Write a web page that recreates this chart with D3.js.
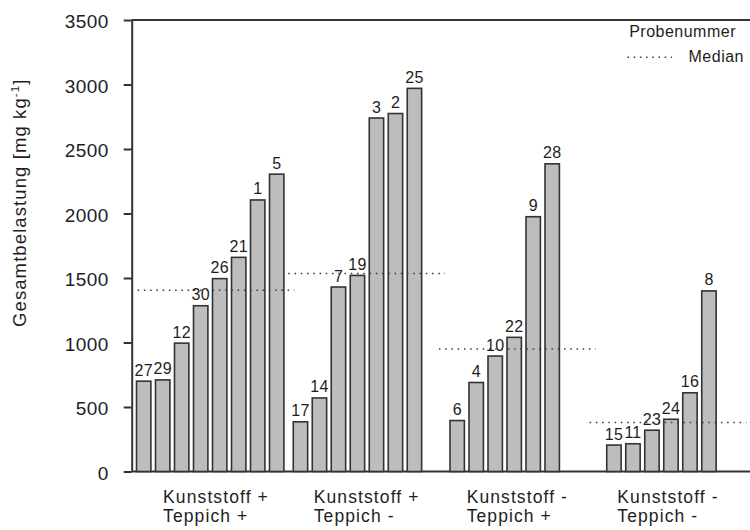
<!DOCTYPE html>
<html>
<head>
<meta charset="utf-8">
<script src="https://cdn.jsdelivr.net/npm/d3@7"></script>
<style>
  html, body { margin: 0; padding: 0; background: #fff; }
  svg { display: block; font-family: "Liberation Sans", Arial, sans-serif; }
</style>
</head>
<body>
<svg id="chart" width="750" height="530"></svg>
<script>
// Sample groups (two-line axis labels)
const groupLabels = [
  ["Kunststoff +", "Teppich +"],
  ["Kunststoff +", "Teppich -"],
  ["Kunststoff -", "Teppich +"],
  ["Kunststoff -", "Teppich -"]
];
// Sample numbers (Probenummer) per group, in plotted order
const sampleIds = [
  [27, 29, 12, 30, 26, 21, 1, 5],
  [17, 14, 7, 19, 3, 2, 25],
  [6, 4, 10, 22, 9, 28],
  [15, 11, 23, 24, 16, 8]
];
// Total load per sample [mg kg-1]
const loads = [
  [700, 710, 995, 1285, 1495, 1660, 2105, 2305],
  [385, 570, 1430, 1520, 2740, 2775, 2970],
  [395, 690, 895, 1040, 1975, 2385],
  [205, 215, 320, 405, 610, 1400]
];
// Group medians
const medians = [1405, 1535, 950, 380];
// Y axis ticks
const yTicks = [0, 500, 1000, 1500, 2000, 2500, 3000, 3500];

const svg = d3.select("#chart");
const W = 750;
const axisX = 131.7, plotTop = 20, plotBottom = 471.5;
const ink = "#333";
const textInk = "#1e1e1e";

const y = d3.scaleLinear().domain([0, 3500]).range([plotBottom, plotTop]);

// Each group reserves eight bar slots plus a small gap
const slots = 8;
const step = 19;
const groupStep = (slots + 0.25) * step;
const groupIdx = d3.range(groupLabels.length);
const xg = d3.scaleBand().domain(groupIdx)
  .range([135.7, 135.7 + groupIdx.length * groupStep]).padding(0);
const xi = d3.scaleBand().domain(d3.range(slots))
  .range([0, slots * step - 3]).paddingInner(3 / step).paddingOuter(0);
// Centre of each group's label block and median line
const xc = d3.scalePoint().domain(groupIdx).range([216, 668]);

// Frame: top and bottom rules
svg.append("line").attr("x1", axisX).attr("x2", W).attr("y1", plotTop).attr("y2", plotTop)
  .attr("stroke", ink).attr("stroke-width", 2);
svg.append("line").attr("x1", axisX).attr("x2", W).attr("y1", plotBottom).attr("y2", plotBottom)
  .attr("stroke", ink).attr("stroke-width", 2);

// Y axis
const yAxis = svg.append("g").attr("transform", `translate(${axisX},0)`)
  .call(d3.axisLeft(y).tickValues(yTicks).tickFormat(d3.format("d"))
    .tickSize(8).tickSizeOuter(0).tickPadding(15));
yAxis.select(".domain").attr("stroke", ink).attr("stroke-width", 2);
yAxis.selectAll(".tick line").attr("stroke", ink).attr("stroke-width", 2);
yAxis.selectAll(".tick text")
  .attr("font-family", "Liberation Sans, Arial, sans-serif")
  .attr("font-size", 19).attr("letter-spacing", "0.4px")
  .attr("fill", textInk).attr("dy", "0.42em");

// Y title
const yTitle = svg.append("text")
  .attr("transform", "translate(26,327) rotate(-90)")
  .attr("font-size", 18.5).attr("letter-spacing", "1.1px").attr("fill", textInk)
  .attr("text-anchor", "start");
yTitle.append("tspan").text("Gesamtbelastung [mg kg");
yTitle.append("tspan").attr("font-size", 11.5).attr("dy", -7).text("-1");
yTitle.append("tspan").attr("dy", 7).text("]");

// Bars and sample number labels
const barData = [];
groupIdx.forEach(g => {
  loads[g].forEach((v, i) => barData.push({ g, i, v, id: sampleIds[g][i] }));
});
const sw = 1.6;
svg.append("g").selectAll("rect").data(barData).join("rect")
  .attr("x", d => xg(d.g) + xi(d.i) + sw / 2)
  .attr("width", xi.bandwidth() - sw)
  .attr("y", d => y(d.v))
  .attr("height", d => plotBottom - y(d.v))
  .attr("fill", "#bdbdbd").attr("stroke", ink).attr("stroke-width", sw);

svg.append("g").selectAll("text").data(barData).join("text")
  .attr("x", d => xg(d.g) + xi(d.i) + xi.bandwidth() / 2)
  .attr("y", d => y(d.v) - 5.5)
  .attr("text-anchor", "middle")
  .attr("font-size", 16).attr("letter-spacing", "0.2px").attr("fill", textInk)
  .text(d => d.id);

// Median lines
const dots = "1.5 4.75";
svg.append("g").selectAll("line").data(groupIdx).join("line")
  .attr("x1", g => xc(g) - groupStep / 2)
  .attr("x2", g => Math.min(W - 3, xc(g) + groupStep / 2))
  .attr("y1", g => y(medians[g])).attr("y2", g => y(medians[g]))
  .attr("stroke", "#3a3a3a").attr("stroke-width", 1.6).attr("stroke-dasharray", dots);

// Group labels (two left-aligned lines, block centred on the group)
groupIdx.forEach(g => {
  groupLabels[g].forEach((line, k) => {
    svg.append("text").attr("class", `glabel g${g}`)
      .attr("y", 502.5 + k * 19.5)
      .attr("font-size", 17.5).attr("letter-spacing", "1.1px")
      .attr("fill", textInk).text(line);
  });
  const nodes = svg.selectAll(`.glabel.g${g}`).nodes();
  const wMax = d3.max(nodes, n => n.getComputedTextLength());
  d3.selectAll(nodes).attr("x", xc(g) - wMax / 2);
});

// Legend
svg.append("text").attr("x", 736).attr("y", 36.5).attr("text-anchor", "end")
  .attr("font-size", 16).attr("letter-spacing", "0.5px").attr("fill", textInk)
  .text("Probenummer");
svg.append("line").attr("x1", 627.5).attr("x2", 672).attr("y1", 57.3).attr("y2", 57.3)
  .attr("stroke", "#3a3a3a").attr("stroke-width", 1.6).attr("stroke-dasharray", "1.5 4.7");
svg.append("text").attr("x", 744).attr("y", 61.5).attr("text-anchor", "end")
  .attr("font-size", 16).attr("letter-spacing", "0.5px").attr("fill", textInk)
  .text("Median");
</script>
</body>
</html>
